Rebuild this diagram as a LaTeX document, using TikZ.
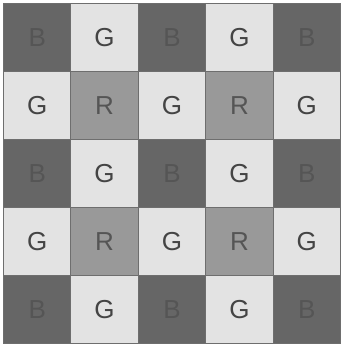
\documentclass[tikz,border=0pt]{standalone}
\usepackage{fontspec}
\setmainfont{Liberation Sans}
\definecolor{cB}{HTML}{666666}
\definecolor{cG}{HTML}{E3E3E3}
\definecolor{cR}{HTML}{999999}
\definecolor{tB}{HTML}{555555}
\definecolor{tG}{HTML}{444444}
\definecolor{tR}{HTML}{555555}
\definecolor{edge}{HTML}{6E6E6E}
\begin{document}
\begin{tikzpicture}[x=1pt,y=-1pt,
  cell/.style={draw=edge,line width=1pt,minimum width=67.4pt,minimum height=68pt,inner sep=0pt,anchor=north west,font=\fontsize{26}{26}\selectfont},
  bcell/.style={cell,fill=cB,text=tB},
  gcell/.style={cell,fill=cG,text=tG},
  rcell/.style={cell,fill=cR,text=tR}]
\fill[white] (0,0) rectangle (341,346);
\useasboundingbox (0,0) rectangle (341,346);
\foreach \r in {0,...,4}{
  \foreach \c in {0,...,4}{
    \pgfmathtruncatemacro{\s}{mod(\r+\c,2)}
    \pgfmathtruncatemacro{\rr}{mod(\r,2)}
    \ifnum\s=1
      \node[gcell] (n\r\c) at ({3+67.4*\c},{3+68*\r}) {G};
    \else
      \ifnum\rr=0
        \node[bcell] (n\r\c) at ({3+67.4*\c},{3+68*\r}) {B};
      \else
        \node[rcell] (n\r\c) at ({3+67.4*\c},{3+68*\r}) {R};
      \fi
    \fi
  }
}
\end{tikzpicture}
\end{document}
